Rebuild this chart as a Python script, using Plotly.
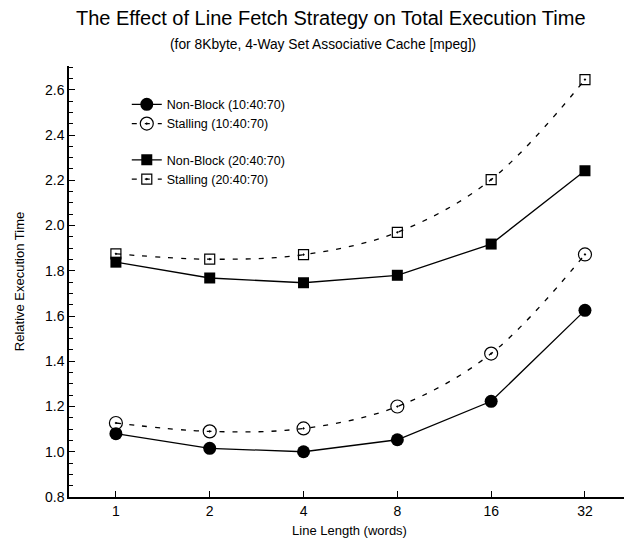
import plotly.graph_objects as go

line_lengths = ["1", "2", "4", "8", "16", "32"]
nonblock_10 = [1.08, 1.015, 1.0, 1.053, 1.223, 1.625]
stalling_10 = [1.127, 1.09, 1.103, 1.20, 1.434, 1.872]
nonblock_20 = [1.838, 1.768, 1.747, 1.78, 1.918, 2.242]
stalling_20 = [1.875, 1.851, 1.871, 1.97, 2.203, 2.645]

y_ticks = [0.8, 1.0, 1.2, 1.4, 1.6, 1.8, 2.0, 2.2, 2.4, 2.6]

title_text = "The Effect of Line Fetch Strategy on Total Execution Time"
subtitle_text = "(for 8Kbyte, 4-Way Set Associative Cache [mpeg])"

FONT = "Arial, Liberation Sans, sans-serif"

fig = go.Figure()

fig.add_trace(go.Scatter(
    x=line_lengths, y=stalling_10, name="Stalling (10:40:70)",
    mode="lines+markers", legendgroup="g1", legendrank=2,
    line=dict(color="black", width=1.3, dash="5px,8px", shape="spline", smoothing=1.0),
    marker=dict(symbol="circle-open-dot", size=13, color="black", line=dict(width=1.2)),
))
fig.add_trace(go.Scatter(
    x=line_lengths, y=nonblock_10, name="Non-Block (10:40:70)",
    mode="lines+markers", legendgroup="g1", legendrank=1,
    line=dict(color="black", width=1.3),
    marker=dict(symbol="circle", size=13, color="black"),
))
fig.add_trace(go.Scatter(
    x=line_lengths, y=stalling_20, name="Stalling (20:40:70)",
    mode="lines+markers", legendgroup="g2", legendrank=4,
    line=dict(color="black", width=1.3, dash="5px,8px", shape="spline", smoothing=1.0),
    marker=dict(symbol="square-open-dot", size=10, color="black", line=dict(width=1.2)),
))
fig.add_trace(go.Scatter(
    x=line_lengths, y=nonblock_20, name="Non-Block (20:40:70)",
    mode="lines+markers", legendgroup="g2", legendrank=3,
    line=dict(color="black", width=1.3),
    marker=dict(symbol="square", size=11, color="black"),
))

fig.add_annotation(
    text=title_text, xref="paper", yref="paper", x=0.467, y=1.111,
    xanchor="center", yanchor="middle", showarrow=False,
    font=dict(family=FONT, size=20, color="black"),
)
fig.add_annotation(
    text=subtitle_text, xref="paper", yref="paper", x=0.453, y=1.049,
    xanchor="center", yanchor="middle", showarrow=False,
    font=dict(family=FONT, size=13.8, color="black"),
)

fig.update_layout(
    width=624, height=536,
    margin=dict(l=61, r=2, t=58, b=47, autoexpand=False),
    paper_bgcolor="white", plot_bgcolor="white",
    font=dict(family=FONT, size=14, color="black"),
    showlegend=True,
    legend=dict(
        x=0.103, y=0.945, xanchor="left", yanchor="top",
        bgcolor="rgba(0,0,0,0)", borderwidth=0,
        font=dict(family=FONT, size=12.5, color="black"),
        tracegroupgap=17, itemwidth=30,
    ),
    xaxis=dict(
        type="category", range=[-0.5, 5.48], automargin=False,
        showline=True, linecolor="black", linewidth=1.5,
        ticks="inside", ticklen=6, tickwidth=1.2, tickcolor="black",
        showgrid=False, zeroline=False,
        title=dict(text="Line Length (words)", font=dict(family=FONT, size=13, color="black"), standoff=8),
    ),
    yaxis=dict(
        range=[0.8, 2.705], automargin=False,
        tickvals=y_ticks, tickformat=".1f",
        showline=True, linecolor="black", linewidth=1.5,
        ticks="inside", ticklen=6, tickwidth=1.2, tickcolor="black",
        minor=dict(dtick=0.05, ticks="inside", ticklen=4, tickwidth=1, tickcolor="black"),
        showgrid=False, zeroline=False,
        title=dict(text="Relative Execution Time", font=dict(family=FONT, size=13, color="black"), standoff=17),
    ),
)

fig.write_html("out.html")
